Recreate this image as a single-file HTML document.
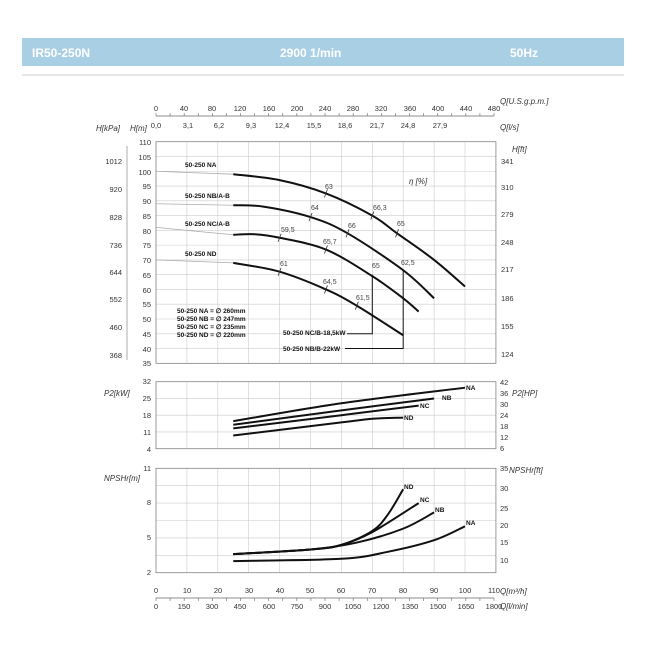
<!DOCTYPE html>
<html><head><meta charset="utf-8"><style>
body{margin:0;background:#fff;}
svg{display:block;font-family:"Liberation Sans",sans-serif;}
.t{font-size:7.5px;fill:#333;}
.i{font-size:8px;fill:#333;font-style:italic;}
.b{font-size:6.5px;fill:#111;font-weight:bold;}
</style></head><body>
<svg id="s" width="650" height="650" viewBox="0 0 650 650">
<rect x="22" y="38" width="602" height="28" fill="#a9cfe5"/>
<line x1="22" y1="75" x2="624" y2="75" stroke="#ddd" stroke-width="1.5"/>
<text x="32" y="57" font-size="12" font-weight="bold" fill="#fff">IR50-250N</text>
<text x="280" y="57" font-size="12" font-weight="bold" fill="#fff">2900 1/min</text>
<text x="510" y="57" font-size="12" font-weight="bold" fill="#fff">50Hz</text>
<g id="g"></g>
<g class="t" text-anchor="middle">
<text x="156" y="111">0</text><text x="184" y="111">40</text><text x="212" y="111">80</text><text x="240" y="111">120</text><text x="269" y="111">160</text><text x="297" y="111">200</text><text x="325" y="111">240</text><text x="353" y="111">280</text><text x="381" y="111">320</text><text x="410" y="111">360</text><text x="438" y="111">400</text><text x="466" y="111">440</text><text x="494" y="111">480</text>
<text x="156" y="128">0,0</text><text x="188" y="128">3,1</text><text x="219" y="128">6,2</text><text x="251" y="128">9,3</text><text x="282" y="128">12,4</text><text x="314" y="128">15,5</text><text x="345" y="128">18,6</text><text x="377" y="128">21,7</text><text x="408" y="128">24,8</text><text x="440" y="128">27,9</text>
</g>
<text class="i" x="500" y="104">Q[U.S.g.p.m.]</text>
<text class="i" x="500" y="130">Q[l/s]</text>
<text class="i" x="96" y="131">H[kPa]</text>
<text class="i" x="130" y="131">H[m]</text>
<text class="i" x="512" y="152">H[ft]</text>
<g class="t" text-anchor="end">
<text x="151" y="145">110</text><text x="151" y="160">105</text><text x="151" y="175">100</text><text x="151" y="189">95</text><text x="151" y="204">90</text><text x="151" y="219">85</text><text x="151" y="234">80</text><text x="151" y="248">75</text><text x="151" y="263">70</text><text x="151" y="278">65</text><text x="151" y="293">60</text><text x="151" y="307">55</text><text x="151" y="322">50</text><text x="151" y="337">45</text><text x="151" y="352">40</text><text x="151" y="366">35</text>
<text x="122" y="164">1012</text><text x="122" y="192">920</text><text x="122" y="220">828</text><text x="122" y="248">736</text><text x="122" y="275">644</text><text x="122" y="302">552</text><text x="122" y="330">460</text><text x="122" y="358">368</text>
<text x="151" y="384">32</text><text x="151" y="401">25</text><text x="151" y="418">18</text><text x="151" y="435">11</text><text x="151" y="452">4</text>
<text x="151" y="471">11</text><text x="151" y="505">8</text><text x="151" y="540">5</text><text x="151" y="575">2</text>
</g>
<g class="t">
<text x="501" y="164">341</text><text x="501" y="190">310</text><text x="501" y="217">279</text><text x="501" y="245">248</text><text x="501" y="272">217</text><text x="501" y="301">186</text><text x="501" y="329">155</text><text x="501" y="357">124</text>
<text x="500" y="385">42</text><text x="500" y="396">36</text><text x="500" y="407">30</text><text x="500" y="418">24</text><text x="500" y="429">18</text><text x="500" y="440">12</text><text x="500" y="451">6</text>
<text x="500" y="471">35</text><text x="500" y="491">30</text><text x="500" y="511">25</text><text x="500" y="528">20</text><text x="500" y="545">15</text><text x="500" y="563">10</text>
</g>
<text class="i" x="104" y="396">P2[kW]</text>
<text class="i" x="512" y="396">P2[HP]</text>
<text class="i" x="104" y="481">NPSHr[m]</text>
<text class="i" x="509" y="473">NPSHr[ft]</text>
<g class="t" text-anchor="middle">
<text x="156" y="593">0</text><text x="187" y="593">10</text><text x="218" y="593">20</text><text x="249" y="593">30</text><text x="280" y="593">40</text><text x="310" y="593">50</text><text x="341" y="593">60</text><text x="372" y="593">70</text><text x="403" y="593">80</text><text x="434" y="593">90</text><text x="465" y="593">100</text><text x="494" y="593">110</text>
<text x="156" y="609">0</text><text x="184" y="609">150</text><text x="212" y="609">300</text><text x="240" y="609">450</text><text x="269" y="609">600</text><text x="297" y="609">750</text><text x="325" y="609">900</text><text x="353" y="609">1050</text><text x="381" y="609">1200</text><text x="410" y="609">1350</text><text x="438" y="609">1500</text><text x="466" y="609">1650</text><text x="494" y="609">1800</text>
</g>
<text class="i" x="500" y="594">Q[m³/h]</text>
<text class="i" x="500" y="609">Q[l/min]</text>
<g class="b">
<text x="185" y="167">50-250 NA</text><text x="185" y="198">50-250 NB/A-B</text><text x="185" y="226">50-250 NC/A-B</text><text x="185" y="256">50-250 ND</text>
<text x="177" y="313">50-250 NA = ∅ 260mm</text><text x="177" y="321">50-250 NB = ∅ 247mm</text><text x="177" y="329">50-250 NC = ∅ 235mm</text><text x="177" y="337">50-250 ND = ∅ 220mm</text>
<text x="283" y="335">50-250 NC/B-18,5kW</text><text x="283" y="351">50-250 NB/B-22kW</text>
<text x="466" y="390">NA</text><text x="442" y="400">NB</text><text x="420" y="408">NC</text><text x="404" y="420">ND</text>
<text x="404" y="489">ND</text><text x="420" y="502">NC</text><text x="435" y="512">NB</text><text x="466" y="525">NA</text>
</g>
<g style="font-size:7px;fill:#444">
<text x="325" y="189">63</text><text x="373" y="210">66,3</text><text x="397" y="226">65</text><text x="311" y="210">64</text><text x="348" y="228">66</text><text x="401" y="265">62,5</text>
<text x="281" y="232">59,5</text><text x="323" y="244">65,7</text><text x="372" y="268">65</text>
<text x="280" y="266">61</text><text x="323" y="284">64,5</text><text x="356" y="300">61,5</text>
</g>
<text class="i" x="409" y="184">η [%]</text>
</svg>
<script>
const NS="http://www.w3.org/2000/svg",g=document.getElementById('g');
function el(n,a){const e=document.createElementNS(NS,n);for(const k in a)e.setAttribute(k,a[k]);g.appendChild(e);return e;}
const X=q=>156+q*3.09;
const HY=h=>141.7+(110-h)*2.955, PY=p=>381.7+(32-p)*2.393, NY=n=>468.3+(11-n)*11.6;
function frame(y0,y1,nh){
 for(let i=0;i<=11;i++)el('line',{x1:X(i*10),x2:X(i*10),y1:y0,y2:y1,stroke:'#ccc','stroke-width':0.6});
 for(let j=0;j<=nh;j++){const y=y0+(y1-y0)*j/nh;el('line',{x1:X(0),x2:X(110),y1:y,y2:y,stroke:'#ccc','stroke-width':0.6});}
 el('rect',{x:X(0),y:y0,width:X(110)-X(0),height:y1-y0,fill:'none',stroke:'#888','stroke-width':0.8});
}
frame(HY(110),HY(35),15);frame(PY(32),PY(4),4);frame(NY(11),NY(2),6);
el('line',{x1:127,x2:127,y1:146,y2:360,stroke:'#888','stroke-width':0.7});
el('line',{x1:156,x2:494,y1:116,y2:116,stroke:'#666','stroke-width':0.7});
el('line',{x1:156,x2:494,y1:598,y2:598,stroke:'#666','stroke-width':0.7});
for(let i=0;i<=24;i++){const x=156+i*338/24;el('line',{x1:x,x2:x,y1:113,y2:116,stroke:'#666','stroke-width':0.6});el('line',{x1:x,x2:x,y1:598,y2:601,stroke:'#666','stroke-width':0.6});}
function path(pts,Y,w,c){let d='';const P=pts.map(p=>[X(p[0]),Y(p[1])]);
 d='M'+P[0].join(',');
 for(let i=0;i<P.length-1;i++){const p0=P[Math.max(0,i-1)],p1=P[i],p2=P[i+1],p3=P[Math.min(P.length-1,i+2)];
  d+=` C${p1[0]+(p2[0]-p0[0])/6},${p1[1]+(p2[1]-p0[1])/6} ${p2[0]-(p3[0]-p1[0])/6},${p2[1]-(p3[1]-p1[1])/6} ${p2[0]},${p2[1]}`;}
 el('path',{d,fill:'none',stroke:c||'#111','stroke-width':w||2});}
// gray extensions
path([[0,100],[25,99]],HY,0.8,'#aaa');path([[0,89],[25,88.5]],HY,0.8,'#aaa');
path([[0,81],[25,78.5]],HY,0.8,'#aaa');path([[0,70],[25,69]],HY,0.8,'#aaa');
path([[25,99],[40,97],[55,92.5],[70,85],[78,79],[90,70],[100,61]],HY);
path([[25,88.5],[35,88],[50,84.5],[62,79],[80,66.5],[90,57]],HY);
path([[25,78.5],[32,78.7],[40,77.5],[55,73.5],[70,64.5],[80,57],[85,52.5]],HY);
path([[25,69],[40,66],[55,60],[65,54.5],[80,44.5]],HY);
// power lines
el('polyline',{points:`${X(70)},${HY(65)} ${X(70)},${HY(45)} 347,${HY(45)}`,fill:'none',stroke:'#111','stroke-width':1});
el('polyline',{points:`${X(80)},${HY(66.5)} ${X(80)},${HY(40)} 345,${HY(40)}`,fill:'none',stroke:'#111','stroke-width':1});
// eff ticks
[[55,92.5],[70,85],[78,79],[50,84.5],[62,79],[40,77.5],[55,73.5],[40,66],[55,60],[65,54.5]].forEach(p=>el('line',{x1:X(p[0])-1.5,y1:HY(p[1])+4,x2:X(p[0])+1.5,y2:HY(p[1])-4,stroke:'#333','stroke-width':0.8}));
path([[25,15.5],[60,23],[100,29.5]],PY);path([[25,14],[60,20],[90,25]],PY);
path([[25,12.5],[60,18],[85,22]],PY);path([[25,9.5],[60,15],[70,16.5],[80,17]],PY);
path([[25,3],[60,3.2],[75,3.8],[90,4.8],[100,6]],NY);
path([[25,3.6],[50,4],[65,4.6],[80,5.8],[90,7.2]],NY);
path([[25,3.6],[50,4],[60,4.4],[70,5.5],[85,8]],NY);
path([[25,3.6],[50,4],[60,4.4],[70,5.6],[75,7],[80,9.2]],NY);
</script>
</body></html>
